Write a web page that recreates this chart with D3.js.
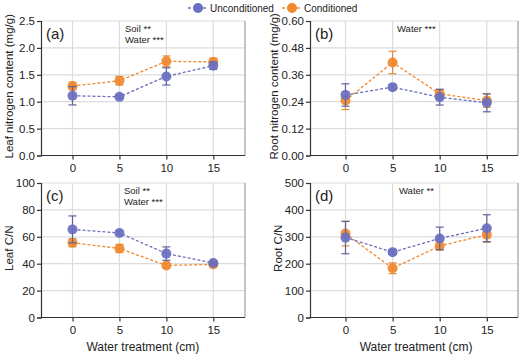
<!DOCTYPE html>
<html>
<head>
<meta charset="utf-8">
<script src="https://cdn.jsdelivr.net/npm/d3@7"></script>
<style>
  body { margin: 0; background: #fff; }
  svg text { font-family: "Liberation Sans", Arial, sans-serif; fill: #222; }
</style>
</head>
<body>
<svg id="fig" width="520" height="354"></svg>
<script>
// water treatment levels (cm)
const water = [0, 5, 10, 15];
const series = ['Unconditioned', 'Conditioned'];

// (a) leaf nitrogen content (mg/g): mean and error
const leafN_unc = [1.11, 1.09, 1.47, 1.67];
const leafN_unc_err = [0.17, 0.03, 0.16, 0.07];
const leafN_con = [1.29, 1.39, 1.75, 1.74];
const leafN_con_err = [0.07, 0.08, 0.10, 0.07];

// (b) root nitrogen content (mg/g)
const rootN_unc = [0.27, 0.305, 0.26, 0.235];
const rootN_unc_err = [0.05, 0.01, 0.035, 0.04];
const rootN_con = [0.245, 0.415, 0.275, 0.245];
const rootN_con_err = [0.04, 0.05, 0.02, 0.03];

// (c) leaf C/N
const leafCN_unc = [65.5, 62.8, 47.5, 40.5];
const leafCN_unc_err = [10, 1.5, 5, 1];
const leafCN_con = [55.6, 51.3, 38.7, 39.5];
const leafCN_con_err = [3, 3, 1.5, 1.5];

// (d) root C/N
const rootCN_unc = [297, 243, 294, 332];
const rootCN_unc_err = [60, 8, 42, 50];
const rootCN_con = [312, 183, 266, 308];
const rootCN_con_err = [46, 20, 15, 28];

const yTicksA = [0, 0.5, 1.0, 1.5, 2.0, 2.5];
const yTicksB = [0, 0.12, 0.24, 0.36, 0.48, 0.60];
const yTicksC = [0, 20, 40, 60, 80, 100];
const yTicksD = [0, 100, 200, 300, 400, 500];

const colors = { Unconditioned: '#6a6fbf', Conditioned: '#f0882c' };
const errColors = { Unconditioned: '#5f6399', Conditioned: '#e38a3a' };

// column layout: left edge, right edge, pixel of x=0 and x=15
const cols = [
  { left: 41, right: 245, x0: 72.5, x15: 213.3 },
  { left: 310, right: 518, x0: 345.5, x15: 486.8 }
];

const panels = [
  { id: '(a)', col: 0, top: 21, ticks: yTicksA, fmt: d3.format('.1f'), title: 'Leaf nitrogen content (mg/g)', titleX: 9,
    unc: leafN_unc, uncErr: leafN_unc_err, con: leafN_con, conErr: leafN_con_err, notes: ['Soil **', 'Water ***'], noteX: 125 },
  { id: '(b)', col: 1, top: 21, ticks: yTicksB, fmt: d3.format('.2f'), title: 'Root nitrogen content (mg/g)', titleX: 274,
    unc: rootN_unc, uncErr: rootN_unc_err, con: rootN_con, conErr: rootN_con_err, notes: ['Water ***'], noteX: 397 },
  { id: '(c)', col: 0, top: 183, ticks: yTicksC, fmt: d3.format('d'), title: 'Leaf C/N', titleX: 9, xtitle: true,
    unc: leafCN_unc, uncErr: leafCN_unc_err, con: leafCN_con, conErr: leafCN_con_err, notes: ['Soil **', 'Water ***'], noteX: 124 },
  { id: '(d)', col: 1, top: 183, ticks: yTicksD, fmt: d3.format('d'), title: 'Root C/N', titleX: 278, xtitle: true,
    unc: rootCN_unc, uncErr: rootCN_unc_err, con: rootCN_con, conErr: rootCN_con_err, notes: ['Water **'], noteX: 399 }
];

const height = 134.5;
const svg = d3.select('#fig');

panels.forEach(function (p) {
  const c = cols[p.col];
  const width = c.right - c.left;
  const unit = (c.x15 - c.x0) / 15;
  const g = svg.append('g').attr('transform', `translate(${c.left}, ${p.top})`);

  const x = d3.scaleLinear()
    .domain([(c.left - c.x0) / unit, (c.right - c.x0) / unit])
    .range([0, width]);
  const y = d3.scaleLinear().domain([p.ticks[0], p.ticks[p.ticks.length - 1]]).range([height, 0]);

  /*grid*/
  g.append('g').selectAll('line').data(p.ticks.slice(1)).enter().append('line')
    .attr('x1', 0).attr('x2', width)
    .attr('y1', (d) => y(d)).attr('y2', (d) => y(d))
    .attr('stroke', '#dcdcdc').attr('stroke-width', 1.2);
  g.append('g').selectAll('line').data(water).enter().append('line')
    .attr('x1', (d) => x(d)).attr('x2', (d) => x(d))
    .attr('y1', 0).attr('y2', height)
    .attr('stroke', '#dcdcdc').attr('stroke-width', 1.2);

  /*right frame*/
  g.append('line').attr('x1', width).attr('x2', width).attr('y1', 0).attr('y2', height)
    .attr('stroke', '#8a8a8a').attr('stroke-width', 1);

  /*axes*/
  const yAxis = g.append('g')
    .call(d3.axisLeft(y).tickValues(p.ticks).tickFormat(p.fmt).tickSize(4).tickPadding(2));
  const xAxis = g.append('g')
    .attr('transform', `translate(0, ${height})`)
    .call(d3.axisBottom(x).tickValues(water).tickFormat(d3.format('d')).tickSize(4).tickPadding(4));
  [xAxis, yAxis].forEach(function (a) {
    a.select('.domain').attr('stroke', '#333').attr('stroke-width', 1.2);
    a.selectAll('.tick line').attr('stroke', '#333').attr('stroke-width', 1.2);
    a.selectAll('.tick text').style('font-size', '11.5px').attr('fill', '#222');
  });
  xAxis.select('.domain').attr('d', `M0,0H${width}`);

  /*y title*/
  svg.append('text')
    .attr('transform', `translate(${p.titleX}, ${p.top + height / 2 - 2}) rotate(-90)`)
    .attr('text-anchor', 'middle').attr('dy', '0.35em')
    .style('font-size', '11.5px')
    .text(p.title);

  if (p.xtitle) {
    svg.append('text')
      .attr('x', c.left + x(7.5)).attr('y', p.top + height + 33)
      .attr('text-anchor', 'middle')
      .style('font-size', '12px')
      .text('Water treatment (cm)');
  }

  /*panel letter*/
  g.append('text').attr('x', 5).attr('y', 18)
    .style('font-size', '15px').text(p.id);

  /*notes*/
  p.notes.forEach(function (n, i) {
    svg.append('text').attr('x', p.noteX).attr('y', p.top + 11 + i * 11)
      .style('font-size', '9.5px').text(n);
  });

  const dataSets = [
    { name: 'Conditioned', vals: p.con, errs: p.conErr },
    { name: 'Unconditioned', vals: p.unc, errs: p.uncErr }
  ];

  dataSets.forEach(function (s) {
    const pts = water.map((w, i) => ({ w: w, v: s.vals[i], e: s.errs[i] }));
    const sg = g.append('g');

    sg.append('path').datum(pts)
      .attr('fill', 'none')
      .attr('stroke', colors[s.name])
      .attr('stroke-width', 1.3)
      .attr('stroke-dasharray', '3,2')
      .attr('d', d3.line().x((d) => x(d.w)).y((d) => y(d.v)));

    /*error bars*/
    const eb = sg.selectAll('g').data(pts).enter().append('g')
      .attr('stroke', errColors[s.name]).attr('stroke-width', 1.2);
    eb.append('line')
      .attr('x1', (d) => x(d.w)).attr('x2', (d) => x(d.w))
      .attr('y1', (d) => y(d.v - d.e)).attr('y2', (d) => y(d.v + d.e));
    eb.append('line')
      .attr('x1', (d) => x(d.w) - 4).attr('x2', (d) => x(d.w) + 4)
      .attr('y1', (d) => y(d.v + d.e)).attr('y2', (d) => y(d.v + d.e));
    eb.append('line')
      .attr('x1', (d) => x(d.w) - 4).attr('x2', (d) => x(d.w) + 4)
      .attr('y1', (d) => y(d.v - d.e)).attr('y2', (d) => y(d.v - d.e));

    sg.selectAll('circle').data(pts).enter().append('circle')
      .attr('cx', (d) => x(d.w)).attr('cy', (d) => y(d.v))
      .attr('r', 5)
      .attr('fill', colors[s.name])
      .attr('fill-opacity', 0.92);
  });
});

/*legend*/
const legendPos = { Unconditioned: 198, Conditioned: 292 };
series.forEach(function (s) {
  const lg = svg.append('g').attr('transform', `translate(${legendPos[s]}, 8)`);
  lg.append('line').attr('x1', -10).attr('x2', 10).attr('y1', 0).attr('y2', 0)
    .attr('stroke', colors[s]).attr('stroke-width', 1.3).attr('stroke-dasharray', '3,2');
  lg.append('circle').attr('r', 5).attr('fill', colors[s]);
  lg.append('text').attr('x', 12).attr('dy', '0.35em')
    .style('font-size', '10px').text(s);
});
</script>
</body>
</html>
